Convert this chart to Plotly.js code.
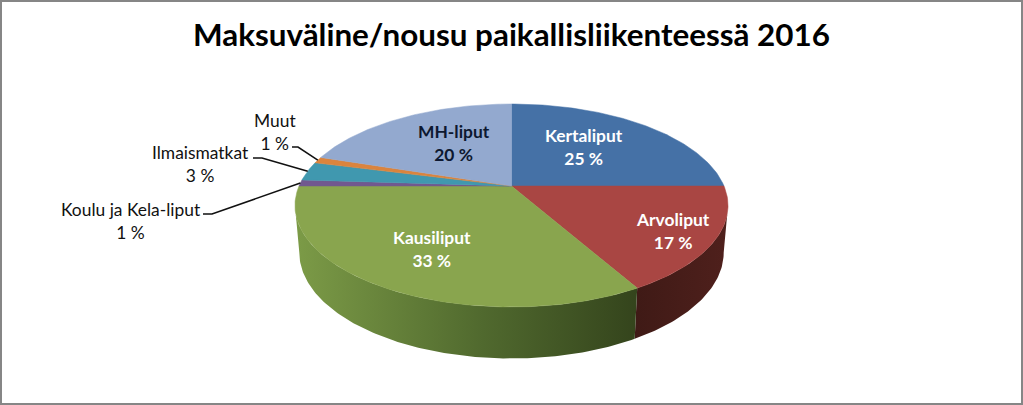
<!DOCTYPE html>
<html>
<head>
<meta charset="utf-8">
<script src="https://cdn.plot.ly/plotly-3.0.1.min.js"></script>
<style>html,body{margin:0;padding:0;background:#fff}#chart{width:1023px;height:405px}</style>
</head>
<body>
<div id="chart"></div>
<script>
// Data, clockwise from 12 o'clock (labels show the rounded share)
const categories = ["Kertaliput","Arvoliput","Kausiliput","Koulu ja Kela-liput","Ilmaismatkat","Muut","MH-liput"];
const shares     = [25,16.8,33.2,1,3,1,20];
const faceColors = ["#4571a6","#a94643","#89a54e","#71588f","#4098af","#db843d","#93a9cf"];
const labelColors= ["#ffffff","#ffffff","#ffffff","#111111","#111111","#111111","#0d1830"];
const labelCenters = [[584,147],[672.5,231],[432,249],[131,220.5],[200,164],[275,132],[454,143]];
const leaderElbows = [null,null,null,[[203,214],[212,214]],[[253,158],[262,158]],[[292,147],[298,147]],null];

// Perspective projection of the unit disc onto the page
const cx=511.5, cy=186, A=212.5, B=97.75, k=0.192, midY=205, baseMidY=252, baseScaleX=0.98, baseScaleY=1.044;
function rim(pct){
  const t=pct/100*2*Math.PI, u=Math.sin(t), v=Math.cos(t), d=1+k*v;
  return [cx+A*u/d, cy-B*v/d];
}
function base(p){ return [cx+(p[0]-cx)*baseScaleX, baseMidY+(p[1]-midY)*baseScaleY]; }
function arc(a,b){ const out=[]; const n=Math.max(2,Math.ceil((b-a)*4)); for(let i=0;i<=n;i++) out.push(rim(a+(b-a)*i/n)); return out; }

const start=[]; shares.reduce((s,v,i)=>(start[i]=s,s+v),0);
const traces=[];

// Side walls for the front-facing slices, cut at the silhouette tangent points
const tangent=Math.acos(-k)/(2*Math.PI)*100;
function wall(i,from,to,scale){
  const top=arc(from,to), bot=top.map(base).reverse(), pts=top.concat(bot);
  traces.push({type:"scatter",mode:"lines",x:pts.map(p=>p[0]),y:pts.map(p=>p[1]),fill:"toself",
    line:{width:0,color:faceColors[i]},fillgradient:{type:"horizontal",colorscale:scale},hoverinfo:"skip",showlegend:false});
}
wall(1,tangent,start[2],[[0,"#3f1a16"],[1,"#4f201c"]]);
wall(2,start[2],100-tangent,[[0,"#7c9b47"],[0.55,"#50692e"],[1,"#34441c"]]);

// Top faces
categories.forEach((c,i)=>{
  const pts=[[cx,cy]].concat(arc(start[i],start[i]+shares[i]));
  pts.push([cx,cy]);
  traces.push({type:"scatter",mode:"lines",name:c,x:pts.map(p=>p[0]),y:pts.map(p=>p[1]),fill:"toself",
    fillcolor:faceColors[i],line:{width:0.5,color:faceColors[i]},hoverinfo:"skip",showlegend:false});
});

// Leader lines
leaderElbows.forEach((el,i)=>{
  if(!el) return;
  const pts=el.concat([rim(start[i]+shares[i]/2)]);
  traces.push({type:"scatter",mode:"lines",x:pts.map(p=>p[0]),y:pts.map(p=>p[1]),
    line:{width:1.6,color:"#111111"},hoverinfo:"skip",showlegend:false});
});

const inside=[true,true,true,false,false,false,true];
const annotations=categories.map((c,i)=>({
  xref:"x",yref:"y",x:labelCenters[i][0],y:labelCenters[i][1],xanchor:"center",yanchor:"middle",showarrow:false,
  align:"center",text:(inside[i]?"<b>":"")+c+"<br>"+Math.round(shares[i])+" %"+(inside[i]?"</b>":""),
  font:{family:"Lato, sans-serif",size:17.4,color:labelColors[i]}
}));

const layout={
  width:1023,height:405,margin:{l:0,r:0,t:0,b:0},paper_bgcolor:"#ffffff",plot_bgcolor:"#ffffff",
  title:{text:"<b>Maksuväline/nousu paikallisliikenteessä 2016</b>",x:0.5,xanchor:"center",y:0.913,yanchor:"middle",
    font:{family:"Lato, sans-serif",size:31.4,color:"#000000"}},
  xaxis:{range:[0,1023],visible:false,fixedrange:true},
  yaxis:{range:[405,0],visible:false,fixedrange:true},
  annotations,
  shapes:[{type:"rect",xref:"paper",yref:"paper",x0:0,x1:1,y0:0,y1:1,line:{color:"#868686",width:4},layer:"above"}],
  showlegend:false
};
Plotly.newPlot("chart",traces,layout,{displayModeBar:false,staticPlot:true});
</script>
</body>
</html>
